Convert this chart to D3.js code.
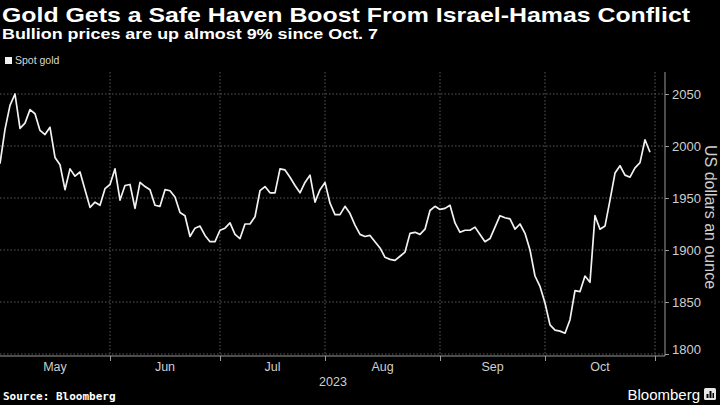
<!DOCTYPE html>
<html><head><meta charset="utf-8">
<script src="https://cdn.jsdelivr.net/npm/d3@7"></script>
<style>body{margin:0;background:#000;} svg{display:block}</style>
</head><body><svg id="c" width="720" height="405"></svg>
<script>
// ---- data (spot gold, US$/oz, one value per weekday, May 1 – Oct 30, 2023) ----
const monthLabels = ["May","Jun","Jul","Aug","Sep","Oct"];
const mayValues = [1983,2016,2039,2050,2017,2022,2035,2031,2015,2011,2018,1989,1982,1958,1978,1971,1975,1958,1941,1946,1943,1959,1963];
const junValues = [1978,1948,1962,1963,1940,1965,1961,1958,1943,1942,1958,1957,1951,1936,1933,1913,1921,1923,1914,1908,1908,1919];
const julValues = [1921,1926,1915,1911,1925,1925,1932,1957,1961,1955,1955,1978,1977,1970,1962,1955,1965,1972,1946,1958,1965];
const augValues = [1945,1934,1934,1942,1935,1924,1915,1913,1914,1908,1902,1893,1891,1890,1894,1898,1916,1917,1915,1920,1938,1942,1939];
const sepValues = [1940,1943,1926,1917,1919,1919,1922,1915,1908,1911,1922,1933,1931,1930,1920,1925,1916,1900,1875,1865,1849];
const octValues = [1828,1823,1822,1820,1833,1861,1860,1875,1869,1933,1920,1923,1948,1974,1981,1972,1970,1979,1984,2006,1994];
const yTicks = [1800,1850,1900,1950,2000,2050];
const yearLabel = "2023";
const seriesName = "Spot gold";
const title = "Gold Gets a Safe Haven Boost From Israel-Hamas Conflict";
const subtitle = "Bullion prices are up almost 9% since Oct. 7";
const yTitle = "US dollars an ounce";
const source = "Source: Bloomberg";

// ---- build ----
const values = [].concat(mayValues, junValues, julValues, augValues, sepValues, octValues);
// full weekday calendar May 1 – Oct 31 (axis is weekday-based)
const calendar = d3.timeDay.range(new Date(2023,4,1), new Date(2023,10,1)).filter(d => d.getDay() > 0 && d.getDay() < 6);
const data = values.map((v,i) => ({i, date: calendar[i], v}));

// month boundaries = index of last weekday of each month
const boundaries = monthLabels.map((m,k) => {
  let last = -1;
  calendar.forEach((d,i) => { if (d.getMonth() === 4 + k) last = i; });
  return last;
});

const svg = d3.select("#c");
svg.append("rect").attr("width",720).attr("height",405).attr("fill","#000");

const plotL = 0, plotR = 665, plotT = 72, axisY = 356;
const x = d3.scaleLinear().domain([0, 133]).range([plotL, plotR]);
const y = d3.scaleLinear().domain([1800, 2050]).range([354, 94]);

// gridlines horizontal
svg.append("g").selectAll("line").data(yTicks).join("line")
  .attr("x1", plotL).attr("x2", plotR)
  .attr("y1", d => y(d)).attr("y2", d => y(d))
  .attr("stroke", "#5a5a5a").attr("stroke-width", 1).attr("stroke-dasharray", "1.5,2");
// gridlines vertical
svg.append("g").selectAll("line").data(boundaries).join("line")
  .attr("x1", d => x(d)).attr("x2", d => x(d))
  .attr("y1", plotT).attr("y2", axisY)
  .attr("stroke", "#5a5a5a").attr("stroke-width", 1).attr("stroke-dasharray", "1.5,2");

// bottom axis
const xAxis = d3.axisBottom(x).tickValues(boundaries).tickSize(5).tickFormat("");
const gx = svg.append("g").attr("transform", `translate(0,${axisY})`).call(xAxis);
gx.select(".domain").attr("stroke", "#9a9a9a").attr("d", `M${plotL},0H${plotR}`);
gx.selectAll(".tick line").attr("stroke", "#9a9a9a");

svg.append("g").selectAll("text").data(monthLabels).join("text")
  .attr("x", (d,k) => (x(k === 0 ? 0 : boundaries[k-1]) + x(boundaries[k])) / 2)
  .attr("y", 371)
  .attr("text-anchor", "middle")
  .attr("fill", "#cfcfcf").attr("font-family", "Liberation Sans, Arial, sans-serif").attr("font-size", 12.5)
  .text(d => d);
svg.append("text").attr("x", 333).attr("y", 386).attr("text-anchor", "middle")
  .attr("fill", "#cfcfcf").attr("font-family", "Liberation Sans, Arial, sans-serif").attr("font-size", 12.5)
  .text(yearLabel);

// right axis
const yAxis = d3.axisRight(y).tickValues(yTicks).tickSize(4).tickPadding(3).tickFormat(d3.format("d"));
const gy = svg.append("g").attr("transform", `translate(${plotR},0)`).call(yAxis);
gy.select(".domain").attr("stroke", "#9a9a9a").attr("d", `M0,${plotT}V${axisY}`);
gy.selectAll(".tick line").attr("stroke", "#9a9a9a");
gy.selectAll(".tick text").attr("fill", "#cfcfcf")
  .attr("font-family", "Liberation Sans, Arial, sans-serif").attr("font-size", 13)
  .attr("dy", d => d === 1800 ? "-0.05em" : "0.32em");

svg.append("text")
  .attr("transform", `translate(705,${(plotT + axisY) / 2 + 3}) rotate(90)`)
  .attr("text-anchor", "middle")
  .attr("fill", "#cfcfcf").attr("font-family", "Liberation Sans, Arial, sans-serif").attr("font-size", 16)
  .text(yTitle);

// line
const line = d3.line().x(d => x(d.i)).y(d => y(d.v)).curve(d3.curveLinear);
svg.append("path").datum(data).attr("d", line)
  .attr("fill", "none").attr("stroke", "#f2f2f2").attr("stroke-width", 1.7)
  .attr("stroke-linejoin", "round");

// titles
svg.append("text").attr("x", 2).attr("y", 22)
  .attr("fill", "#ffffff").attr("font-family", "Liberation Sans, Arial, sans-serif")
  .attr("font-weight", "bold").attr("font-size", 21)
  .attr("textLength", 688).attr("lengthAdjust", "spacingAndGlyphs")
  .text(title);
svg.append("text").attr("x", 2).attr("y", 39)
  .attr("fill", "#ffffff").attr("font-family", "Liberation Sans, Arial, sans-serif")
  .attr("font-weight", "bold").attr("font-size", 14.5)
  .attr("textLength", 376).attr("lengthAdjust", "spacingAndGlyphs")
  .text(subtitle);

// legend
svg.append("rect").attr("x", 5).attr("y", 57).attr("width", 7).attr("height", 7).attr("fill", "#f2f2f2");
svg.append("text").attr("x", 15).attr("y", 64)
  .attr("fill", "#d8d8d8").attr("font-family", "Liberation Sans, Arial, sans-serif").attr("font-size", 10.5)
  .text(seriesName);

// source
svg.append("text").attr("x", 3).attr("y", 400)
  .attr("fill", "#ffffff").attr("font-family", "DejaVu Sans Mono, monospace")
  .attr("font-weight", "bold").attr("font-size", 11)
  .text(source);

// Bloomberg mark
svg.append("text").attr("x", 700).attr("y", 400).attr("text-anchor", "end")
  .attr("fill", "#ffffff").attr("font-family", "Liberation Sans, Arial, sans-serif").attr("font-size", 15)
  .text("Bloomberg");
const logo = svg.append("g").attr("transform", "translate(704,388)");
logo.append("rect").attr("width", 12).attr("height", 12).attr("rx", 1.5).attr("fill", "#e8e8e8");
logo.append("rect").attr("x", 2.5).attr("y", 6).attr("width", 2).attr("height", 4).attr("fill", "#000");
logo.append("rect").attr("x", 5.5).attr("y", 3).attr("width", 2).attr("height", 7).attr("fill", "#000");
logo.append("rect").attr("x", 8.5).attr("y", 5).attr("width", 1.5).attr("height", 5).attr("fill", "#000");
</script>
</body></html>
